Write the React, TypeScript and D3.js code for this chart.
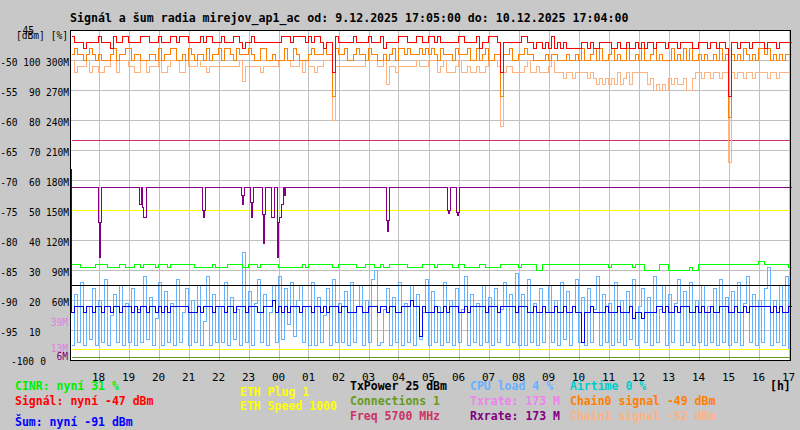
import { useEffect, useRef } from "react";
import * as d3 from "d3";

const START = new Date(2025, 11, 9, 17, 5);
const END = new Date(2025, 11, 10, 17, 5);
const STEP_MIN = 6; // one sample per 6 minutes, one row = one hour from 17:05

// Signál [dBm]
const signal = [
  -46, -47, -47, -47, -48, -47, -47, -47, -47, -46,
  -47, -47, -47, -48, -46, -47, -47, -46, -46, -47,
  -47, -47, -47, -46, -46, -46, -47, -47, -47, -46,
  -47, -47, -47, -46, -46, -47, -46, -46, -46, -47,
  -47, -47, -47, -46, -47, -46, -46, -47, -47, -47,
  -46, -47, -47, -47, -46, -46, -47, -48, -47, -47,
  -46, -47, -47, -47, -47, -47, -47, -47, -47, -47,
  -46, -46, -46, -47, -46, -46, -46, -46, -47, -46,
  -47, -46, -46, -47, -48, -47, -47, -52, -46, -47,
  -47, -47, -47, -47, -46, -47, -47, -47, -47, -46,
  -47, -47, -47, -46, -48, -47, -47, -47, -47, -46,
  -46, -46, -47, -47, -47, -46, -46, -47, -47, -46,
  -46, -47, -46, -47, -47, -47, -47, -47, -47, -46,
  -46, -47, -47, -47, -47, -46, -48, -47, -47, -46,
  -46, -46, -47, -52, -47, -47, -47, -47, -47, -47,
  -46, -46, -47, -47, -48, -47, -47, -48, -47, -48,
  -46, -48, -47, -48, -47, -48, -48, -48, -48, -48,
  -47, -47, -48, -47, -48, -48, -47, -47, -47, -47,
  -48, -48, -47, -48, -48, -47, -48, -48, -47, -48,
  -47, -48, -47, -47, -48, -47, -47, -47, -48, -47,
  -47, -47, -48, -47, -47, -47, -47, -48, -48, -47,
  -47, -47, -48, -47, -47, -48, -47, -47, -48, -56,
  -47, -47, -48, -47, -47, -47, -48, -47, -47, -47,
  -47, -48, -47, -47, -47, -48, -47, -47, -47, -47,
];

// Chain0 signal [dBm]
const chain0 = [
  -49, -48, -49, -49, -50, -49, -48, -49, -50, -49,
  -50, -50, -50, -49, -48, -50, -49, -49, -48, -48,
  -50, -49, -49, -50, -50, -50, -49, -49, -50, -48,
  -50, -49, -49, -48, -48, -50, -50, -49, -50, -48,
  -49, -50, -49, -49, -50, -48, -50, -49, -49, -48,
  -50, -48, -48, -49, -50, -48, -49, -49, -49, -48,
  -49, -50, -50, -48, -48, -50, -50, -49, -50, -50,
  -50, -48, -50, -50, -48, -49, -50, -50, -50, -49,
  -48, -49, -49, -49, -48, -49, -49, -56, -48, -49,
  -49, -48, -50, -50, -49, -48, -49, -49, -50, -48,
  -49, -49, -50, -50, -49, -50, -49, -48, -50, -48,
  -48, -49, -48, -49, -49, -49, -48, -49, -48, -49,
  -48, -49, -50, -48, -49, -49, -49, -50, -48, -49,
  -49, -49, -48, -50, -50, -48, -50, -49, -48, -50,
  -50, -49, -49, -56, -49, -49, -48, -50, -50, -49,
  -49, -48, -49, -49, -50, -50, -50, -50, -49, -50,
  -49, -49, -50, -50, -50, -49, -50, -50, -49, -50,
  -48, -50, -50, -49, -48, -50, -48, -50, -50, -49,
  -48, -50, -49, -50, -50, -48, -50, -50, -49, -50,
  -48, -50, -50, -49, -48, -50, -49, -50, -50, -50,
  -48, -50, -49, -50, -48, -50, -48, -50, -50, -49,
  -50, -49, -50, -50, -49, -50, -48, -50, -49, -59.5,
  -49, -50, -49, -50, -48, -49, -50, -49, -50, -48,
  -48, -49, -48, -50, -49, -50, -49, -50, -49, -49,
];

// Chain1 signal [dBm]
const chain1 = [
  -50, -52, -51, -51, -51, -50, -52, -51, -51, -52,
  -52, -51, -51, -50, -50, -52, -50, -50, -50, -51,
  -51, -52, -52, -50, -50, -52, -51, -51, -51, -50,
  -52, -52, -51, -50, -50, -50, -52, -52, -50, -51,
  -51, -51, -50, -51, -51, -52, -51, -51, -51, -51,
  -51, -51, -51, -51, -51, -51, -50, -53.5, -51, -51,
  -51, -51, -51, -52, -51, -51, -51, -51, -51, -50,
  -50, -50, -50, -51, -51, -51, -50, -52, -50, -51,
  -51, -52, -51, -51, -50, -50, -50, -60, -51, -51,
  -51, -51, -51, -51, -51, -51, -51, -51, -50, -50,
  -50, -50, -51, -51, -50, -54, -51, -51, -52, -51,
  -51, -51, -51, -51, -51, -50, -51, -51, -51, -50,
  -50, -50, -52, -51, -50, -52, -52, -52, -51, -50,
  -52, -52, -51, -52, -52, -51, -52, -52, -51, -50,
  -50, -50, -51, -61, -52, -51, -51, -52, -52, -52,
  -52, -51, -50, -52, -52, -51, -52, -52, -52, -51,
  -50, -52, -52, -52, -53, -52, -52, -53, -52, -52,
  -52, -52, -53, -52, -53, -54, -53, -54, -53, -54,
  -53, -54, -52, -54, -53, -52, -54, -52, -52, -52,
  -52, -52, -54, -53, -55, -54, -55, -54, -55, -53,
  -54, -53, -54, -54, -53, -55, -55, -53, -52, -52,
  -53, -52, -52, -53, -52, -52, -53, -52, -52, -67,
  -52, -53, -52, -52, -53, -52, -52, -53, -52, -52,
  -52, -52, -53, -52, -52, -53, -52, -52, -52, -52,
];

// Šum [dBm]
const noiseStart = -68;
const noise = [
  -92, -91, -91, -91, -92, -91, -91, -92, -91, -91,
  -92, -91, -91, -92, -91, -91, -92, -91, -91, -91,
  -92, -91, -92, -91, -91, -92, -91, -91, -92, -91,
  -92, -91, -92, -91, -91, -91, -91, -91, -91, -92,
  -92, -92, -91, -92, -91, -91, -91, -92, -91, -91,
  -91, -92, -91, -91, -92, -91, -91, -91, -92, -91,
  -91, -91, -92, -92, -91, -91, -91, -90, -92, -91,
  -92, -91, -92, -91, -91, -91, -92, -91, -91, -91,
  -92, -91, -91, -92, -91, -92, -91, -91, -91, -92,
  -91, -91, -92, -92, -92, -91, -91, -92, -92, -91,
  -91, -91, -92, -91, -91, -92, -91, -91, -92, -92,
  -91, -91, -91, -90, -91, -91, -96, -91, -92, -92,
  -92, -91, -92, -92, -91, -92, -91, -91, -91, -92,
  -92, -91, -92, -91, -91, -91, -91, -91, -92, -91,
  -91, -91, -92, -91, -91, -91, -91, -91, -92, -91,
  -91, -91, -92, -92, -91, -92, -92, -91, -92, -92,
  -92, -91, -92, -92, -91, -92, -92, -91, -92, -92,
  -97, -92, -92, -91, -92, -92, -92, -92, -91, -92,
  -92, -92, -91, -92, -92, -92, -91, -93, -92, -92,
  -93, -92, -92, -92, -92, -91, -91, -92, -91, -92,
  -92, -91, -92, -91, -91, -91, -92, -92, -91, -92,
  -91, -92, -92, -91, -92, -92, -91, -91, -91, -92,
  -92, -91, -92, -92, -91, -92, -91, -91, -91, -91,
  -91, -91, -91, -92, -91, -92, -91, -92, -92, -91,
];

// CINR [%]
const cinr = [
  32, 32, 32, 31, 31, 31, 31, 31, 32, 32,
  32, 32, 31, 31, 31, 31, 32, 32, 31, 31,
  31, 32, 32, 31, 32, 32, 32, 32, 31, 32,
  32, 32, 31, 32, 32, 32, 32, 32, 32, 32,
  32, 31, 31, 31, 31, 31, 31, 32, 31, 31,
  31, 31, 32, 32, 32, 32, 32, 31, 31, 32,
  32, 32, 31, 32, 32, 32, 32, 32, 32, 31,
  31, 31, 31, 31, 31, 31, 31, 32, 31, 32,
  32, 32, 32, 32, 32, 32, 32, 31, 31, 32,
  32, 32, 32, 32, 32, 31, 31, 31, 32, 32,
  32, 31, 31, 32, 31, 31, 32, 32, 32, 32,
  32, 32, 31, 31, 31, 31, 31, 32, 32, 32,
  32, 31, 32, 32, 32, 32, 32, 31, 31, 32,
  32, 31, 31, 31, 31, 31, 32, 32, 31, 31,
  31, 31, 31, 32, 32, 32, 32, 32, 32, 31,
  32, 32, 32, 32, 32, 30, 30, 32, 32, 32,
  32, 32, 32, 32, 32, 32, 32, 32, 32, 32,
  32, 32, 32, 32, 32, 32, 32, 32, 32, 31,
  32, 32, 32, 32, 32, 32, 32, 31, 32, 32,
  32, 30, 30, 30, 30, 30, 32, 32, 32, 30,
  30, 30, 30, 30, 30, 30, 31, 30, 30, 32,
  32, 32, 32, 32, 32, 32, 32, 32, 32, 32,
  32, 32, 32, 32, 32, 32, 32, 32, 32, 33,
  33, 32, 32, 32, 32, 32, 32, 32, 32, 31,
];

// CPU load [%]
const cpu = [
  5, 22, 6, 26, 5, 18, 7, 24, 5, 20,
  6, 27, 5, 15, 22, 6, 25, 5, 19, 6,
  24, 5, 17, 6, 28, 7, 21, 5, 14, 26,
  5, 23, 6, 19, 5, 27, 6, 16, 24, 5,
  20, 6, 25, 5, 13, 28, 5, 22, 6, 18,
  6, 26, 5, 21, 7, 17, 5, 36, 6, 23,
  5, 19, 27, 6, 22, 5, 16, 25, 6, 28,
  7, 24, 12, 26, 8, 20, 25, 6, 18, 5,
  26, 5, 21, 6, 15, 24, 5, 27, 6, 19,
  6, 23, 5, 26, 6, 18, 25, 5, 20, 6,
  27, 30, 5, 6, 17, 24, 5, 21, 6, 26,
  5, 19, 6, 25, 5, 22, 7, 16, 27, 5,
  23, 6, 18, 5, 26, 6, 20, 5, 24, 6,
  17, 28, 5, 22, 6, 19, 5, 25, 6, 21,
  5, 24, 6, 17, 26, 5, 22, 6, 29, 5,
  22, 5, 27, 6, 19, 5, 24, 6, 16, 25,
  6, 20, 5, 26, 7, 23, 5, 18, 27, 6,
  21, 5, 24, 6, 17, 28, 5, 22, 6, 19,
  5, 26, 6, 20, 5, 23, 7, 27, 5, 18,
  24, 6, 21, 5, 28, 6, 17, 25, 5, 22,
  6, 19, 27, 5, 23, 6, 26, 5, 20, 6,
  25, 5, 18, 6, 24, 5, 27, 6, 21, 5,
  23, 6, 26, 5, 19, 28, 6, 22, 5, 20,
  6, 24, 31, 5, 20, 6, 25, 5, 28, 4,
];

// Rxrate dips [minute from start, M], 2-minute samples; otherwise rxrate
const rxDips: [number, number][] = [
  [54, 138], [56, 103], [58, 138],
  [136, 156], [138, 156],
  [142, 153], [144, 143], [146, 143], [148, 143],
  [262, 150], [264, 143], [266, 150],
  [340, 165], [342, 156], [344, 165],
  [358, 158], [360, 143], [362, 158],
  [382, 146], [384, 117], [386, 146],
  [400, 143], [402, 143], [404, 143],
  [412, 103], [414, 138], [416, 143], [418, 143], [420, 156], [422, 156],
  [426, 165],
  [630, 140], [632, 129], [634, 140],
  [752, 150], [754, 147], [756, 150],
  [770, 148], [772, 145], [774, 148],
];

// current values (legend) and constant lines
const cinrNow = 31;
const signalNow = -47;
const noiseNow = -91;
const ethPlug = 1;
const ethSpeed = 1000;
const txPower = 25;
const connections = 1;
const freq = 5700;
const cpuNow = 4;
const txrate = 173;
const rxrate = 173;
const airtime = 0;
const chain0Now = -49;
const chain1Now = -52;

// axis labels
const dbmTicks = [-50, -55, -60, -65, -70, -75, -80, -85, -90, -95];
const pctTicks = [100, 90, 80, 70, 60, 50, 40, 30, 20, 10];
const mTicks = [300, 270, 240, 210, 180, 150, 120, 90, 60];
const txMarks = [39, 13];
const rxMarks = [6];

const MONO = "'DejaVu Sans Mono', monospace";

export default function App() {
  const ref = useRef<SVGSVGElement>(null);

  useEffect(() => {
    if (!ref.current) return;
    const svg = d3.select(ref.current);
    svg.selectAll("*").remove();

    const x = d3.scaleTime().domain([START, END]).range([71, 791]);
    const yDbm = d3.scaleLinear().domain([-100, -45]).range([360, 30]);
    const yPct = d3.scaleLinear().domain([0, 110]).range([360, 30]);
    const yM = d3.scaleLinear().domain([0, 330]).range([360, 30]);

    svg.append("rect").attr("width", 800).attr("height", 430).attr("fill", "#c8c8c8");
    svg.append("rect").attr("x", 70).attr("y", 30).attr("width", 720).attr("height", 330).attr("fill", "#ffffff");

    const g = svg.append("g").attr("transform", "translate(0.5,0.5)");
    const crisp = (sel: any) => sel.attr("shape-rendering", "crispEdges");

    // grid
    const hours = x.ticks(d3.timeHour.every(1)!).filter((d) => d > START);
    hours.forEach((h) => {
      g.append("line").attr("x1", Math.round(x(h))).attr("x2", Math.round(x(h)))
        .attr("y1", 30).attr("y2", 360).attr("stroke", "#c0c0c0").call(crisp);
    });
    dbmTicks.forEach((t) => {
      g.append("line").attr("x1", 70).attr("x2", 790).attr("y1", yDbm(t)).attr("y2", yDbm(t))
        .attr("stroke", "#c0c0c0").call(crisp);
    });

    const stepPath = (values: number[], y: (v: number) => number, color: string) => {
      const pts: [Date, number][] = values.map((v, i) => [d3.timeMinute.offset(START, i * STEP_MIN), v]);
      pts.push([END, values[values.length - 1]]);
      const line = d3.line<[Date, number]>()
        .x((d) => Math.round(x(d[0])))
        .y((d) => Math.round(y(d[1])))
        .curve(d3.curveStepAfter);
      g.append("path").attr("d", line(pts)).attr("fill", "none").attr("stroke", color)
        .attr("stroke-width", 1).call(crisp);
    };
    const hLine = (yv: number, color: string) => {
      g.append("line").attr("x1", 71).attr("x2", 790).attr("y1", Math.round(yv)).attr("y2", Math.round(yv))
        .attr("stroke", color).call(crisp);
    };

    hLine(yPct(airtime), "#00cccc");
    hLine(yM(ethPlug * 11), "#ffff00");
    hLine(yPct(connections), "#669922");
    stepPath(cpu, yPct, "#66b2ff");
    hLine(yPct(ethSpeed / 20), "#ffff00");
    hLine(yPct(txPower), "#000000");
    stepPath(cinr, yPct, "#00ff00");
    g.append("line").attr("x1", 71).attr("x2", 71)
      .attr("y1", Math.round(yDbm(noiseStart))).attr("y2", Math.round(yDbm(noise[0])))
      .attr("stroke", "#0000ff").call(crisp);
    stepPath(noise, yDbm, "#0000ff");
    hLine(yDbm(-freq / 90), "#cc3366");
    hLine(yM(txrate), "#ee82ee");

    // rxrate at 2-minute resolution
    const rxPts: [Date, number][] = [[START, rxrate]];
    rxDips.forEach(([m, v], i) => {
      rxPts.push([d3.timeMinute.offset(START, m), v]);
      const next = rxDips[i + 1];
      if (!next || next[0] !== m + 2) rxPts.push([d3.timeMinute.offset(START, m + 2), rxrate]);
    });
    rxPts.push([END, rxrate]);
    const rxLine = d3.line<[Date, number]>()
      .x((d) => Math.round(x(d[0])))
      .y((d) => Math.round(yM(d[1])))
      .curve(d3.curveStepAfter);
    g.append("path").attr("d", rxLine(rxPts)).attr("fill", "none").attr("stroke", "#800080").call(crisp);

    stepPath(chain1, yDbm, "#ffb380");
    stepPath(chain0, yDbm, "#ff7f00");
    stepPath(signal, yDbm, "#ff0000");

    // frame
    g.append("path").attr("d", "M70,30H790V360H70Z").attr("fill", "none").attr("stroke", "#000").call(crisp);

    // text
    const t = svg.append("g").attr("font-family", MONO);
    t.append("text").attr("x", 70).attr("y", 22).attr("font-size", 11.6).attr("font-weight", "bold")
      .text("Signál a šum radia mirejov_ap1_ac od: 9.12.2025 17:05:00 do: 10.12.2025 17:04:00");

    const yl = t.append("g").attr("font-size", 9.6).attr("fill", "#000").attr("text-anchor", "end");
    dbmTicks.forEach((d, i) => {
      const yy = yDbm(d) + 5.5;
      yl.append("text").attr("x", 17.5).attr("y", yy).text(String(d));
      yl.append("text").attr("x", 40.5).attr("y", yy).text(String(pctTicks[i]));
      if (i < mTicks.length) yl.append("text").attr("x", 69).attr("y", yy).text(`${mTicks[i]}M`);
    });
    yl.append("text").attr("x", 34).attr("y", yDbm(-100) + 5).text("-100");
    yl.append("text").attr("x", 46).attr("y", yDbm(-100) + 5).text("0");
    yl.append("text").attr("x", 34).attr("y", yDbm(-45) + 4).text("-45");
    yl.append("text").attr("x", 68).attr("y", yDbm(-45) + 9).text("[dBm] [%]");
    txMarks.forEach((m) => {
      yl.append("text").attr("x", 68).attr("y", yM(m) + 5).attr("fill", "#e080e0").text(`${m}M`);
    });
    rxMarks.forEach((m) => {
      yl.append("text").attr("x", 68).attr("y", yM(m) + 6).attr("fill", "#800080").text(`${m}M`);
    });

    const fmt = d3.timeFormat("%H");
    hours.forEach((h) => {
      t.append("text").attr("x", x(h)).attr("y", 381).attr("font-size", 11)
        .attr("text-anchor", "middle").text(fmt(h));
    });

    const lg = t.append("g").attr("font-size", 11.5).attr("font-weight", "bold");
    const leg = (lx: number, ly: number, color: string, s: string) =>
      lg.append("text").attr("x", lx).attr("y", ly).attr("fill", color).text(s);
    leg(15, 390, "#00ee00", `CINR: nyní ${cinrNow} %`);
    leg(15, 405, "#ff0000", `Signál: nyní ${signalNow} dBm`);
    leg(15, 426, "#0000ff", `Šum: nyní ${noiseNow} dBm`);
    leg(240, 396, "#ffff00", `ETH Plug ${ethPlug}`);
    leg(240, 410, "#ffff00", `ETH Speed ${ethSpeed}`);
    leg(350, 390, "#000000", `TxPower ${txPower} dBm`);
    leg(350, 405, "#669922", `Connections ${connections}`);
    leg(350, 420, "#cc3366", `Freq ${freq} MHz`);
    leg(470, 390, "#66b2ff", `CPU load ${cpuNow} %`);
    leg(470, 405, "#ee82ee", `Txrate: ${txrate} M`);
    leg(470, 420, "#800080", `Rxrate: ${rxrate} M`);
    leg(570, 390, "#00cccc", `Airtime ${airtime} %`);
    leg(570, 405, "#ff7f00", `Chain0 signal ${chain0Now} dBm`);
    leg(570, 420, "#ffb380", `Chain1 signal ${chain1Now} dBm`);
    leg(770, 390, "#000000", "[h]");
  }, []);

  return (
    <svg
      ref={ref}
      width={800}
      height={430}
      style={{ position: "absolute", left: 0, top: 0, display: "block" }}
    />
  );
}
